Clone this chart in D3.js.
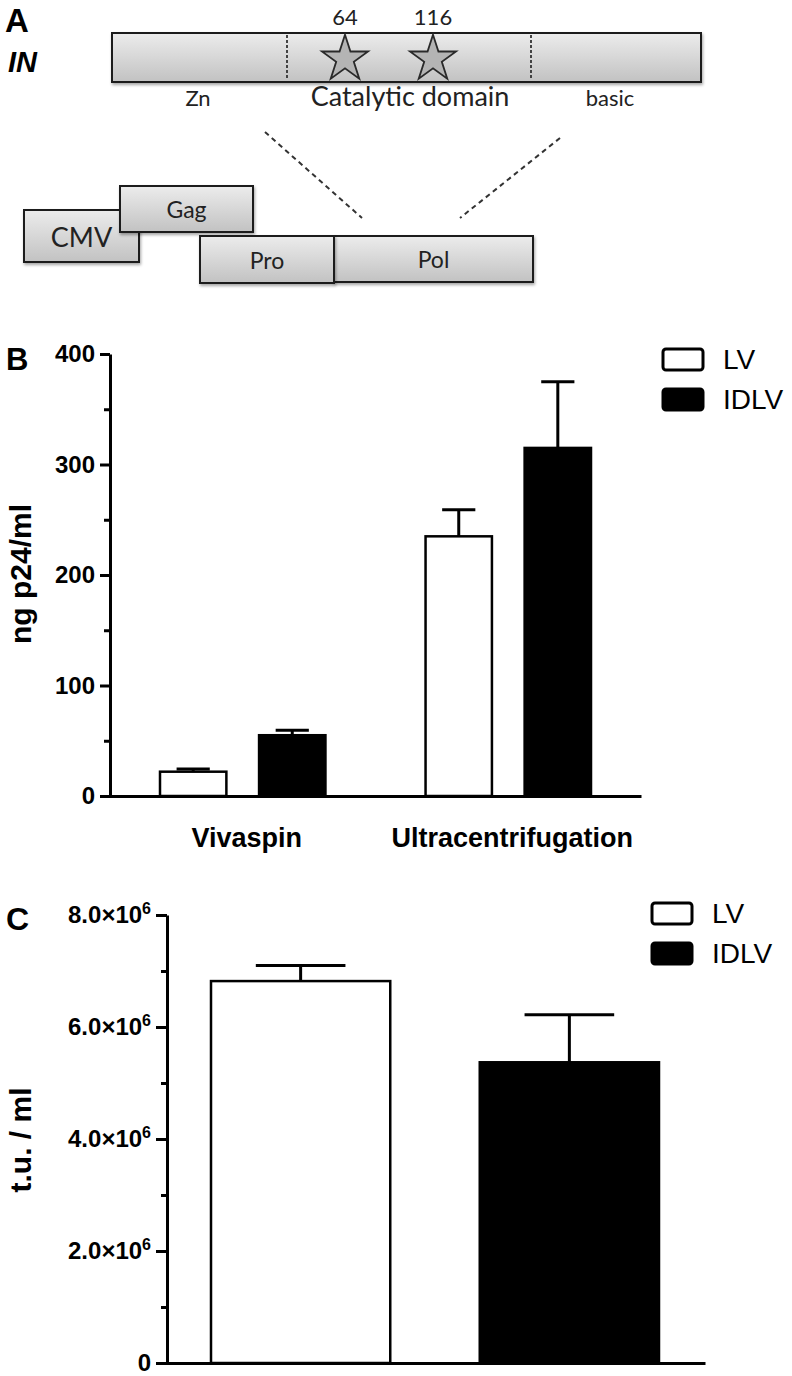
<!DOCTYPE html>
<html>
<head>
<meta charset="utf-8">
<script src="https://cdn.jsdelivr.net/npm/d3@7"></script>
<style>
  body { margin: 0; background: #fff; }
</style>
</head>
<body>
<div id="chart"></div>
<script>
// ---- data ----
// panel A: integrase domains and mutated residues
const inDomains = ["Zn", "Catalytic domain", "basic"]
const mutations = ["64", "116"]
const cassette = ["CMV", "Gag", "Pro", "Pol"]

// panel B: p24 yield per concentration method
const methods = ["Vivaspin", "Ultracentrifugation"]
const vectors = ["LV", "IDLV"]
const lvP24 = [22, 235]
const lvP24Err = [2.5, 24]
const idlvP24 = [55, 315]
const idlvP24Err = [4.5, 60]
const p24Ticks = [0, 100, 200, 300, 400]
const p24Minor = [50, 150, 250, 350]

// panel C: titre
const tuMean = [6.82e6, 5.37e6]
const tuErr = [0.28e6, 0.85e6]
const tuTicks = [0, 2e6, 4e6, 6e6, 8e6]
const tuMinor = [1e6, 3e6, 5e6, 7e6]

const SANS = "'Liberation Sans', Arial, sans-serif"
const LATO = "Lato, 'Noto Sans', sans-serif"

const svg = d3.select("#chart").append("svg")
  .attr("width", 792).attr("height", 1376)

const defs = svg.append("defs")
const grad = defs.append("linearGradient").attr("id", "boxFill")
  .attr("x1", 0).attr("y1", 0).attr("x2", 0).attr("y2", 1)
grad.append("stop").attr("offset", "0%").attr("stop-color", "#ececec")
grad.append("stop").attr("offset", "100%").attr("stop-color", "#c2c2c2")
defs.append("filter").attr("id", "shadow")
  .attr("x", "-10%").attr("y", "-10%").attr("width", "130%").attr("height", "140%")
  .append("feDropShadow")
  .attr("dx", 1).attr("dy", 2).attr("stdDeviation", 1.5)
  .attr("flood-color", "#000").attr("flood-opacity", 0.35)

// ======== panel A : schematic ========
const gA = svg.append("g")
gA.append("text").attr("x", 5).attr("y", 32)
  .style("font", `bold 33px ${SANS}`).text("A")
gA.append("text").attr("x", 8).attr("y", 72)
  .style("font", `italic bold 29px ${SANS}`).text("IN")

function box(g, x, y, w, h, label, fs) {
  const b = g.append("g")
  b.append("rect").attr("x", x).attr("y", y).attr("width", w).attr("height", h)
    .attr("fill", "url(#boxFill)").attr("stroke", "#1a1a1a").attr("stroke-width", 2)
    .attr("filter", "url(#shadow)")
  if (label) {
    b.append("text").attr("x", x + w / 2).attr("y", y + h / 2)
      .attr("text-anchor", "middle").attr("dominant-baseline", "central")
      .style("font", `${fs}px ${LATO}`).attr("fill", "#222").text(label)
  }
  return b
}

// integrase bar
box(gA, 112, 33, 589, 49)
gA.selectAll(".divider").data([287, 531]).enter().append("line")
  .attr("x1", d => d).attr("x2", d => d).attr("y1", 35).attr("y2", 80)
  .attr("stroke", "#333").attr("stroke-width", 1.8).attr("stroke-dasharray", "3,2")

// stars for mutated residues
const star = d3.symbol().type(d3.symbolStar).size(660)
const starX = [345, 433]
mutations.forEach((m, i) => {
  gA.append("path").attr("d", star())
    .attr("transform", `translate(${starX[i]},59)`)
    .attr("fill", "#b4b4b4").attr("stroke", "#2a2a2a").attr("stroke-width", 1.8)
  gA.append("text").attr("x", starX[i]).attr("y", 25).attr("text-anchor", "middle")
    .style("font", `22px ${LATO}`).attr("fill", "#222").text(m)
})

const domX = [198, 410, 610]
const domSize = [22, 27, 22]
inDomains.forEach((d, i) => {
  gA.append("text").attr("x", domX[i]).attr("y", 106).attr("text-anchor", "middle")
    .style("font", `${domSize[i]}px ${LATO}`).attr("fill", "#222").text(d)
})

// zoom lines
gA.append("line").attr("x1", 265).attr("y1", 132).attr("x2", 362).attr("y2", 218)
  .attr("stroke", "#333").attr("stroke-width", 2).attr("stroke-dasharray", "5,4")
gA.append("line").attr("x1", 560).attr("y1", 138).attr("x2", 460).attr("y2", 218)
  .attr("stroke", "#333").attr("stroke-width", 2).attr("stroke-dasharray", "5,4")

// vector cassette
box(gA, 24, 210, 115, 52, cassette[0], 27)
box(gA, 120, 186, 133, 46, cassette[1], 23)
box(gA, 334, 236, 199, 46, cassette[3], 23)
box(gA, 200, 236, 134, 47, cassette[2], 23)

// ======== panel B : p24 ========
const gB = svg.append("g")
gB.append("text").attr("x", 6).attr("y", 370)
  .style("font", `bold 31px ${SANS}`).text("B")

const yB = d3.scaleLinear().domain([0, 400]).range([796, 354])
const xB = d3.scaleBand().domain(methods).range([160, 591]).paddingInner(0.377)
const xBi = d3.scaleBand().domain(vectors).range([0, xB.bandwidth()]).paddingInner(0.33)

const barsB = methods.flatMap((m, i) => [
  { m: m, v: "LV", mean: lvP24[i], err: lvP24Err[i] },
  { m: m, v: "IDLV", mean: idlvP24[i], err: idlvP24Err[i] }
])

function errorBars(g, data, xOf, w, y) {
  const e = g.append("g").attr("stroke", "#000").attr("stroke-width", 3)
  e.selectAll(".stem").data(data).enter().append("line")
    .attr("x1", d => xOf(d) + w / 2).attr("x2", d => xOf(d) + w / 2)
    .attr("y1", d => y(d.mean)).attr("y2", d => y(d.mean + d.err))
  e.selectAll(".cap").data(data).enter().append("line")
    .attr("x1", d => xOf(d) + w / 4).attr("x2", d => xOf(d) + w * 3 / 4)
    .attr("y1", d => y(d.mean + d.err)).attr("y2", d => y(d.mean + d.err))
}

const xOfB = d => xB(d.m) + xBi(d.v)
errorBars(gB, barsB, xOfB, xBi.bandwidth(), yB)
gB.selectAll(".bar").data(barsB).enter().append("rect")
  .attr("x", d => xOfB(d)).attr("y", d => yB(d.mean))
  .attr("width", xBi.bandwidth()).attr("height", d => yB(0) - yB(d.mean))
  .attr("fill", d => d.v === "LV" ? "#fff" : "#000")
  .attr("stroke", "#000").attr("stroke-width", 2.5)

function styleAxis(a, fs) {
  a.select(".domain").attr("stroke-width", 3)
  a.selectAll(".tick line").attr("stroke-width", 3)
  a.selectAll(".tick text").style("font", `bold ${fs}px ${SANS}`).attr("fill", "#000")
}

const axBx = gB.append("g").attr("transform", "translate(0,796)")
  .call(d3.axisBottom(d3.scaleLinear().range([100, 641])).tickValues([]).tickSizeOuter(0))
styleAxis(axBx, 24)
const axBy = gB.append("g").attr("transform", "translate(110,0)")
  .call(d3.axisLeft(yB).tickValues(p24Ticks).tickSize(10).tickSizeOuter(0).tickPadding(5))
styleAxis(axBy, 24)
const axBm = gB.append("g").attr("transform", "translate(110,0)")
  .call(d3.axisLeft(yB).tickValues(p24Minor).tickSize(6).tickFormat(""))
axBm.select(".domain").remove()
axBm.selectAll(".tick line").attr("stroke-width", 3)

gB.selectAll(".cat").data(methods).enter().append("text")
  .attr("x", d => xB(d) + xB.bandwidth() / 2 + 4).attr("y", 847)
  .attr("text-anchor", "middle").style("font", `bold 27px ${SANS}`).text(d => d)

gB.append("text").attr("transform", "translate(31,574) rotate(-90)")
  .attr("text-anchor", "middle").style("font", `bold 30px ${SANS}`).text("ng p24/ml")

function legend(g, x, y, gap) {
  vectors.forEach((v, i) => {
    g.append("rect").attr("x", x).attr("y", y + i * gap).attr("width", 40).attr("height", 21)
      .attr("rx", 3).attr("fill", i === 0 ? "#fff" : "#000")
      .attr("stroke", "#000").attr("stroke-width", 3)
    g.append("text").attr("x", x + 60).attr("y", y + i * gap + 20)
      .style("font", `28px ${SANS}`).text(v)
  })
}
legend(gB, 663, 349, 40)

// ======== panel C : titre ========
const gC = svg.append("g")
gC.append("text").attr("x", 6).attr("y", 930)
  .style("font", `bold 32px ${SANS}`).text("C")

const yC = d3.scaleLinear().domain([0, 8e6]).range([1363, 915])
const xC = d3.scaleBand().domain(vectors).range([211, 659]).paddingInner(0.333)
const barsC = vectors.map((v, i) => ({ v: v, mean: tuMean[i], err: tuErr[i] }))
const xOfC = d => xC(d.v)
errorBars(gC, barsC, xOfC, xC.bandwidth(), yC)
gC.selectAll(".bar").data(barsC).enter().append("rect")
  .attr("x", d => xOfC(d)).attr("y", d => yC(d.mean))
  .attr("width", xC.bandwidth()).attr("height", d => yC(0) - yC(d.mean))
  .attr("fill", d => d.v === "LV" ? "#fff" : "#000")
  .attr("stroke", "#000").attr("stroke-width", 2.5)

const axCx = gC.append("g").attr("transform", "translate(0,1363)")
  .call(d3.axisBottom(d3.scaleLinear().range([157, 705])).tickValues([]).tickSizeOuter(0))
styleAxis(axCx, 24)
const axCy = gC.append("g").attr("transform", "translate(167,0)")
  .call(d3.axisLeft(yC).tickValues(tuTicks).tickSize(11).tickSizeOuter(0).tickPadding(5))
styleAxis(axCy, 24)
// scientific labels with superscript exponent
axCy.selectAll(".tick text").each(function (d) {
  const t = d3.select(this)
  if (d === 0) return
  t.text(null)
  t.append("tspan").text((d / 1e6).toFixed(1) + "\u00d710")
  t.append("tspan").attr("dy", -9).style("font-size", "16px").text("6")
})
const axCm = gC.append("g").attr("transform", "translate(167,0)")
  .call(d3.axisLeft(yC).tickValues(tuMinor).tickSize(6).tickFormat(""))
axCm.select(".domain").remove()
axCm.selectAll(".tick line").attr("stroke-width", 3)

gC.append("text").attr("transform", "translate(31,1140) rotate(-90)")
  .attr("text-anchor", "middle").style("font", `bold 30px ${SANS}`).text("t.u. / ml")

legend(gC, 652, 903, 40)
</script>
</body>
</html>
